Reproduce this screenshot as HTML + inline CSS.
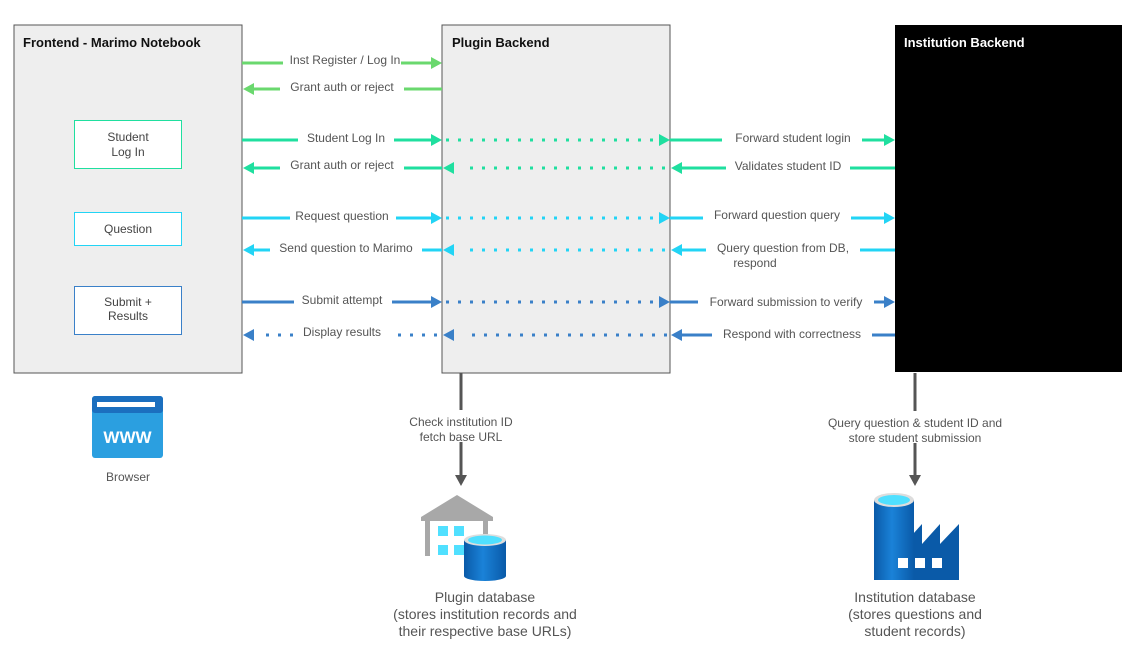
<!DOCTYPE html>
<html><head><meta charset="utf-8"><style>
html,body{margin:0;padding:0;background:#fff;}
svg text{font-family:"Liberation Sans",sans-serif;}
</style></head><body>
<svg width="1146" height="656" viewBox="0 0 1146 656" xmlns="http://www.w3.org/2000/svg">
<defs>
<linearGradient id="cyl" x1="0" x2="1"><stop offset="0" stop-color="#0a5aa8"/><stop offset="0.45" stop-color="#1a82d8"/><stop offset="1" stop-color="#0a5aa8"/></linearGradient>
</defs>
<rect x="14" y="25" width="228" height="348" fill="#eeeeee" stroke="#555" stroke-width="1"/>
<rect x="442" y="25" width="228" height="348" fill="#eeeeee" stroke="#555" stroke-width="1"/>
<rect x="895" y="25" width="227" height="347" fill="#000"/>
<g font-weight="bold" font-size="13">
<text x="23" y="47" fill="#111">Frontend - Marimo Notebook</text>
<text x="452" y="47" fill="#111">Plugin Backend</text>
<text x="904" y="47" fill="#fff">Institution Backend</text>
</g>
<rect x="74.5" y="120.5" width="107" height="48" fill="#fff" stroke="#1fdf9f"/>
<rect x="74.5" y="212.5" width="107" height="33" fill="#fff" stroke="#22d4f5"/>
<rect x="74.5" y="286.5" width="107" height="48" fill="#fff" stroke="#3a80c8"/>
<g font-size="12" fill="#444" text-anchor="middle">
<text x="128" y="141">Student</text><text x="128" y="156">Log In</text>
<text x="128" y="233">Question</text>
<text x="128" y="306">Submit +</text><text x="128" y="320">Results</text>
</g>
<g stroke-width="3" fill="none">
<line x1="242" y1="63" x2="432" y2="63" stroke="#6ad86e"/>
<line x1="252" y1="89" x2="442" y2="89" stroke="#6ad86e"/>
<line x1="242" y1="140" x2="432" y2="140" stroke="#1fdf9f"/>
<line x1="446" y1="140" x2="660" y2="140" stroke="#1fdf9f" stroke-dasharray="3 9"/>
<line x1="670" y1="140" x2="885" y2="140" stroke="#1fdf9f"/>
<line x1="252" y1="168" x2="442" y2="168" stroke="#1fdf9f"/>
<line x1="470" y1="168" x2="668" y2="168" stroke="#1fdf9f" stroke-dasharray="3 9"/>
<line x1="680" y1="168" x2="895" y2="168" stroke="#1fdf9f"/>
<line x1="242" y1="218" x2="432" y2="218" stroke="#22d4f5"/>
<line x1="446" y1="218" x2="660" y2="218" stroke="#22d4f5" stroke-dasharray="3 9"/>
<line x1="670" y1="218" x2="885" y2="218" stroke="#22d4f5"/>
<line x1="252" y1="250" x2="442" y2="250" stroke="#22d4f5"/>
<line x1="470" y1="250" x2="668" y2="250" stroke="#22d4f5" stroke-dasharray="3 9"/>
<line x1="680" y1="250" x2="895" y2="250" stroke="#22d4f5"/>
<line x1="242" y1="302" x2="432" y2="302" stroke="#3a80c8"/>
<line x1="446" y1="302" x2="660" y2="302" stroke="#3a80c8" stroke-dasharray="3 9"/>
<line x1="670" y1="302" x2="885" y2="302" stroke="#3a80c8"/>
<line x1="266" y1="335" x2="440" y2="335" stroke="#3a80c8" stroke-dasharray="3 9"/>
<line x1="472" y1="335" x2="668" y2="335" stroke="#3a80c8" stroke-dasharray="3 9"/>
<line x1="680" y1="335" x2="895" y2="335" stroke="#3a80c8"/>
<line x1="461" y1="373" x2="461" y2="476" stroke="#555"/>
<line x1="915" y1="373" x2="915" y2="476" stroke="#555"/>
</g>
<g>
<path d="M442 63 l-11 -6 l0 12z" fill="#6ad86e"/>
<path d="M243 89 l11 -6 l0 12z" fill="#6ad86e"/>
<path d="M442 140 l-11 -6 l0 12z M670 140 l-11 -6 l0 12z M895 140 l-11 -6 l0 12z" fill="#1fdf9f"/>
<path d="M243 168 l11 -6 l0 12z M443 168 l11 -6 l0 12z M671 168 l11 -6 l0 12z" fill="#1fdf9f"/>
<path d="M442 218 l-11 -6 l0 12z M670 218 l-11 -6 l0 12z M895 218 l-11 -6 l0 12z" fill="#22d4f5"/>
<path d="M243 250 l11 -6 l0 12z M443 250 l11 -6 l0 12z M671 250 l11 -6 l0 12z" fill="#22d4f5"/>
<path d="M442 302 l-11 -6 l0 12z M670 302 l-11 -6 l0 12z M895 302 l-11 -6 l0 12z" fill="#3a80c8"/>
<path d="M243 335 l11 -6 l0 12z M443 335 l11 -6 l0 12z M671 335 l11 -6 l0 12z" fill="#3a80c8"/>
<path d="M461 486 l-6 -11 l12 0z M915 486 l-6 -11 l12 0z" fill="#555"/>
</g>
<g font-size="12" fill="#555" text-anchor="middle">
<g fill="#fff">
<rect x="283" y="52" width="118" height="16"/><rect x="280" y="78" width="124" height="16"/>
<rect x="298" y="130" width="96" height="16"/><rect x="280" y="156" width="124" height="16"/>
<rect x="290" y="208" width="106" height="16"/><rect x="270" y="240" width="152" height="16"/>
<rect x="294" y="292" width="98" height="16"/><rect x="294" y="324" width="96" height="16"/>
<rect x="722" y="130" width="140" height="16"/><rect x="726" y="158" width="124" height="16"/>
<rect x="703" y="206" width="148" height="16"/><rect x="706" y="240" width="154" height="16"/>
<rect x="698" y="292" width="176" height="16"/><rect x="712" y="325" width="160" height="16"/>
</g>
<text x="345" y="64">Inst Register / Log In</text>
<text x="342" y="91">Grant auth or reject</text>
<text x="346" y="142">Student Log In</text>
<text x="342" y="169">Grant auth or reject</text>
<text x="342" y="220">Request question</text>
<text x="346" y="252">Send question to Marimo</text>
<text x="342" y="304">Submit attempt</text>
<text x="342" y="336">Display results</text>
<text x="793" y="142">Forward student login</text>
<text x="788" y="170">Validates student ID</text>
<text x="777" y="219">Forward question query</text>
<text x="783" y="252">Query question from DB,</text>
<text x="755" y="267">respond</text>
<text x="786" y="306">Forward submission to verify</text>
<text x="792" y="338">Respond with correctness</text>
<rect x="400" y="410" width="124" height="32" fill="#fff"/>
<rect x="815" y="411" width="200" height="32" fill="#fff"/>
<text x="461" y="426">Check institution ID</text>
<text x="461" y="441">fetch base URL</text>
<text x="915" y="427">Query question &amp; student ID and</text>
<text x="915" y="442">store student submission</text>
<text x="128" y="481">Browser</text>
</g>
<g font-size="14" fill="#555" text-anchor="middle">
<text x="485" y="602">Plugin database</text>
<text x="485" y="619">(stores institution records and</text>
<text x="485" y="636">their respective base URLs)</text>
<text x="915" y="602">Institution database</text>
<text x="915" y="619">(stores questions and</text>
<text x="915" y="636">student records)</text>
</g>
<rect x="92" y="396" width="71" height="62" rx="3" fill="#2b9fe0"/>
<rect x="92" y="396" width="71" height="17" rx="3" fill="#1b6fbf"/>
<rect x="97" y="402" width="58" height="5" fill="#fff"/>
<text x="127.5" y="443" font-size="17" font-weight="bold" fill="#fff" text-anchor="middle">WWW</text>
<path d="M421 517 l36 -22 l36 22 v4 h-5 v35 h-5 v-35 h-53 v35 h-5 v-35 h-4z" fill="#a8a8a8"/>
<rect x="438" y="526" width="10" height="10" fill="#50e0ff"/><rect x="454" y="526" width="10" height="10" fill="#50e0ff"/>
<rect x="438" y="545" width="10" height="10" fill="#50e0ff"/><rect x="454" y="545" width="10" height="10" fill="#50e0ff"/>
<path d="M464 540 v36 a21 5 0 0 0 42 0 v-36z" fill="url(#cyl)"/>
<ellipse cx="485" cy="540" rx="21" ry="6" fill="#ddd"/>
<ellipse cx="485" cy="540" rx="17" ry="4.5" fill="#50e0ff"/>
<path d="M874 500 v80 h85 v-56 l-19 20 v-20 l-18 20 v-20 l-18 20 v-44z" fill="#0a5aa8"/>
<path d="M874 500 v80 h40 v-80z" fill="url(#cyl)"/>
<ellipse cx="894" cy="500" rx="20" ry="7" fill="#ddd"/>
<ellipse cx="894" cy="500" rx="16" ry="5" fill="#50e0ff"/>
<rect x="898" y="558" width="10" height="10" fill="#fff"/><rect x="915" y="558" width="10" height="10" fill="#fff"/><rect x="932" y="558" width="10" height="10" fill="#fff"/>
</svg>
</body></html>
